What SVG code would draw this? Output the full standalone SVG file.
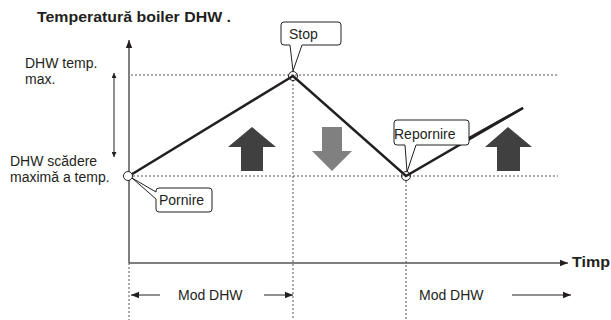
<svg xmlns="http://www.w3.org/2000/svg" width="611" height="320" viewBox="0 0 611 320">
<style>
text{font-family:"Liberation Sans",Arial,sans-serif;fill:#231f20;font-size:14px}
.b{font-weight:bold;font-size:14px}
.dot{stroke:#555;stroke-width:1;stroke-dasharray:2 2;fill:none}
.ax{stroke:#555;stroke-width:1.5;fill:none}
.thin{stroke:#231f20;stroke-width:1;fill:none}
.call{fill:#fff;stroke:#231f20;stroke-width:1}
</style>
<defs>
<marker id="ah" viewBox="0 0 10 10" refX="10" refY="5" markerWidth="14" markerHeight="8" markerUnits="userSpaceOnUse" orient="auto"><path d="M0,1 L10,5 L0,9 z" fill="#231f20"/></marker>
<marker id="ahs" viewBox="0 0 10 10" refX="10" refY="5" markerWidth="7" markerHeight="5" markerUnits="userSpaceOnUse" orient="auto"><path d="M0,0 L10,5 L0,10 z" fill="#231f20"/></marker>
</defs>
<text class="b" x="37" y="22" textLength="194" lengthAdjust="spacingAndGlyphs">Temperatură boiler DHW .</text>
<text x="25" y="68">DHW temp.</text>
<text x="25" y="84">max.</text>
<text x="10" y="166">DHW scădere</text>
<text x="10" y="182">maximă a temp.</text>
<g id="connectors">
<path class="dot" d="M131,75 H558"/>
<path class="dot" d="M133,176 H558"/>
<path class="dot" d="M293,80 V320"/>
<path class="dot" d="M406,181 V320"/>
<path class="dot" d="M129,263 V320"/>
<path class="ax" d="M129,263 V40" marker-end="url(#ah)"/>
<path class="ax" d="M129,263 H568" marker-end="url(#ah)"/>
<path class="thin" d="M114,115 V73" marker-end="url(#ahs)"/>
<path class="thin" d="M114,115 V157" marker-end="url(#ahs)"/>
<path d="M129,176 L293,76 L406,176 L523,108" fill="none" stroke="#231f20" stroke-width="2.5"/>
<path class="thin" d="M160,295 H131" marker-end="url(#ah)"/>
<path class="thin" d="M264,295 H293" marker-end="url(#ah)"/>
<path class="thin" d="M512,295 H571" marker-end="url(#ah)"/>
</g>
<g id="pornire">
<circle cx="128" cy="176" r="4.5" fill="#fff" stroke="#231f20" stroke-width="1"/>
<path class="call" d="M159,188 H209 Q212,188 212,191 V209 Q212,212 209,212 H159 Q156,212 156,209 V199 L132,178 L156,192 V191 Q156,188 159,188 Z"/>
<text x="159" y="205">Pornire</text>
</g>
<g id="stop">
<circle cx="293" cy="76" r="4.5" fill="none" stroke="#231f20" stroke-width="1"/>
<path class="call" d="M284,22 H338 Q341,22 341,25 V42 Q341,45 338,45 H302 L293,71 L290,45 H284 Q281,45 281,42 V25 Q281,22 284,22 Z"/>
<text x="289" y="39">Stop</text>
</g>
<g id="repornire">
<circle cx="406" cy="176" r="4.5" fill="none" stroke="#231f20" stroke-width="1"/>
<path class="call" d="M397,120 H466 Q469,120 469,123 V142 Q469,145 466,145 H416 L407,172 L405,145 H397 Q394,145 394,142 V123 Q394,120 397,120 Z"/>
<text x="394" y="139">Repornire</text>
<path d="M469,138 L523,108" stroke="#231f20" stroke-width="2.5" fill="none"/>
</g>
<g id="arrows">
<path d="M252,127 L276,147 H263 V171 H241 V147 H228 Z" fill="#404040"/>
<path d="M322,127 H342 V151 H352 L332,171 L312,151 H322 Z" fill="#808080"/>
<path d="M508,127 L532,147 H520 V171 H497 V147 H485 Z" fill="#404040"/>
</g>
<text class="b" x="572" y="267" textLength="38" lengthAdjust="spacingAndGlyphs">Timp</text>
<text x="178" y="300">Mod DHW</text>
<text x="419" y="300">Mod DHW</text>
</svg>
